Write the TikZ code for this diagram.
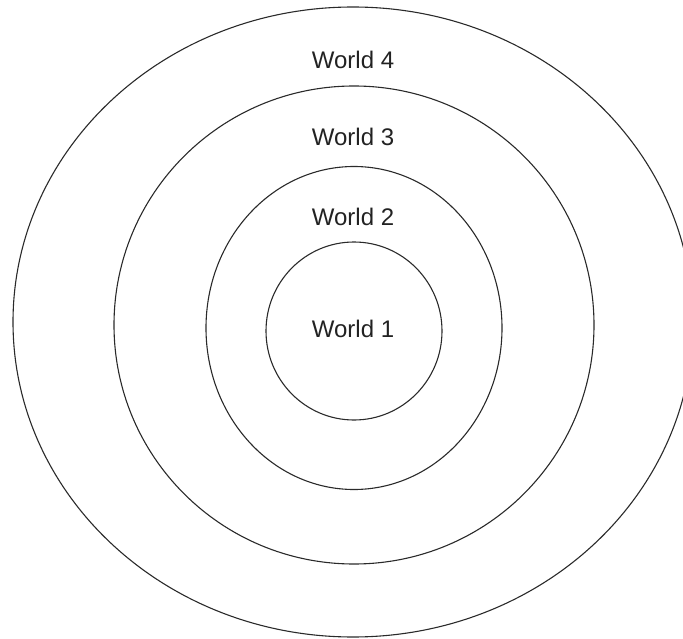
\documentclass[tikz,border=0pt]{standalone}
\usepackage{fontspec}
\setmainfont{Liberation Sans}
\usepackage{xcolor}
\definecolor{ringgray}{HTML}{2A2A2A}
\definecolor{labelgray}{HTML}{222222}
\usetikzlibrary{shapes.geometric}
\tikzset{
  worldring/.style={draw=ringgray,line width=1.1pt,ellipse,inner sep=0pt,outer sep=0pt},
  worldlabel/.style={font=\fontsize{24}{28}\selectfont,text=labelgray,inner sep=0pt}
}
\begin{document}
\begin{tikzpicture}[x=1pt,y=-1pt]
\useasboundingbox (0,0) rectangle (683,639);
\clip (0,0) rectangle (683,639);
% nested worlds
\node[worldring,minimum width=680pt,minimum height=630pt] (w4) at (353,322) {};
\node[worldring,minimum width=480pt,minimum height=478pt] (w3) at (354,325) {};
\node[worldring,minimum width=296pt,minimum height=323pt] (w2) at (354,328) {};
\node[worldring,minimum width=176pt,minimum height=178pt] (w1) at (354,331) {};
% labels
\node[worldlabel] (l4) at (353,60) {World 4};
\node[worldlabel] (l3) at (353,137) {World 3};
\node[worldlabel] (l2) at (353,217) {World 2};
\node[worldlabel] (l1) at (353,329) {World 1};
\end{tikzpicture}
\end{document}
